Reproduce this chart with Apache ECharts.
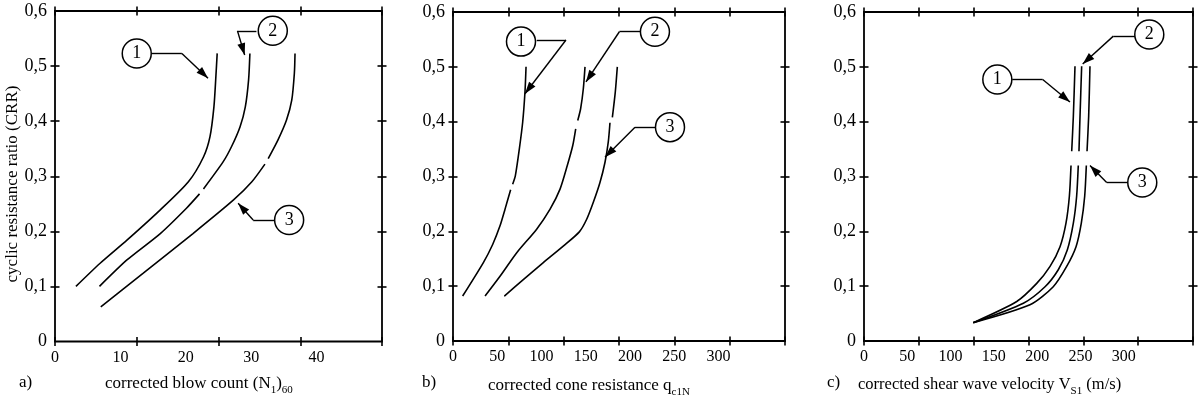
<!DOCTYPE html>
<html>
<head>
<meta charset="utf-8">
<script src="https://cdn.jsdelivr.net/npm/echarts@6/dist/echarts.min.js"></script>
<style>
  html, body { margin: 0; padding: 0; background: #fff; }
  #chart { width: 1200px; height: 397px; }
</style>
</head>
<body>
<div id="chart"></div>
<script>
// gap marker: breaks a curve where the original drawing has a small break
const GAP = ['-', '-'];

// y axis (same for all three panels)
const crrLabels = [0, 0.1, 0.2, 0.3, 0.4, 0.5, 0.6];
const crrTicks = [0.1, 0.2, 0.3, 0.4, 0.5];

// a) corrected blow count
const blowLabels = [0, 10, 20, 30, 40];
const blowTickStep = 12.5;
const blowCurve1 = [[24.8, 0.523], [24.6, 0.481], [24.3, 0.426], [23.7, 0.372], [22.7, 0.335], [20.4, 0.29], [16.1, 0.239], [11.0, 0.184], [6.9, 0.142], [3.2, 0.1]];
const blowCurve2 = [[29.8, 0.523], [29.6, 0.475], [29.1, 0.426], [28.3, 0.39], [27.0, 0.354], [25.7, 0.326], [22.7, 0.277], GAP, [22.1, 0.268], [20.1, 0.242], [16.1, 0.196], [11.0, 0.148], [6.8, 0.1]];
const blowCurve3 = [[36.7, 0.523], [36.6, 0.487], [36.2, 0.438], [35.4, 0.402], [34.1, 0.366], [32.6, 0.332], GAP, [32.1, 0.322], [30.1, 0.29], [27.3, 0.257], [21.1, 0.196], [13.5, 0.124], [7.0, 0.063]];
const blowCallouts = [
  { n: '1', c: [12.5, 0.523], s: [14.8, 0.523], e: [19.4, 0.523], t: [23.4, 0.478] },
  { n: '2', c: [33.3, 0.564], s: [30.8, 0.564], e: [27.9, 0.564], t: [29.0, 0.52] },
  { n: '3', c: [35.8, 0.2205], s: [33.6, 0.2205], e: [30.3, 0.2205], t: [28.0, 0.251] }
];

// b) corrected cone resistance
const coneLabels = [0, 50, 100, 150, 200, 250, 300];
const coneTickStep = 62.5;
const coneCurve1 = [[82.5, 0.5], [81.3, 0.454], [78.7, 0.399], [74.9, 0.35], [70.4, 0.301], [67.4, 0.286], GAP, [65.1, 0.276], [58.7, 0.24], [53.1, 0.21], [44.8, 0.176], [34.3, 0.143], [10.9, 0.082]];
const coneCurve2 = [[149.1, 0.5], [147.2, 0.46], [144.2, 0.424], [140.9, 0.402], GAP, [138.6, 0.387], [135.2, 0.356], [129.1, 0.32], [120.9, 0.277], [109.5, 0.24], [94.5, 0.204], [72.0, 0.161], [53.1, 0.118], [36.2, 0.082]];
const coneCurve3 = [[185.6, 0.5], [183.3, 0.454], [180.0, 0.408], GAP, [177.3, 0.398], [175.4, 0.363], [171.7, 0.326], [166.0, 0.289], [158.5, 0.253], [151.0, 0.222], [142.7, 0.199], [124.5, 0.173], [102.0, 0.143], [79.4, 0.112], [58.0, 0.082]];
const coneCallouts = [
  { n: '1', c: [76.8, 0.546], s: [94.5, 0.549], e: [127.6, 0.549], t: [81.3, 0.451] },
  { n: '2', c: [228.1, 0.564], s: [212.0, 0.564], e: [187.9, 0.564], t: [150.2, 0.4725] },
  { n: '3', c: [245.1, 0.39], s: [229.3, 0.39], e: [205.6, 0.39], t: [171.7, 0.335] }
];

// c) corrected shear wave velocity
const shearLabels = [0, 50, 100, 150, 200, 250, 300];
const shearTickStep = 380 / 6;
const shearCurve1 = [[243.7, 0.501], [241.8, 0.41], [239.9, 0.346], GAP, [239.1, 0.32], [237.2, 0.264], [233.3, 0.215], [226.4, 0.172], [214.9, 0.136], [199.5, 0.105], [176.4, 0.072], [126.2, 0.0335]];
const shearCurve2 = [[251.4, 0.501], [249.5, 0.41], [248.3, 0.346], GAP, [247.5, 0.32], [245.6, 0.264], [241.8, 0.215], [234.8, 0.166], [224.4, 0.13], [209.1, 0.099], [184.1, 0.069], [126.2, 0.0335]];
const shearCurve3 = [[261.0, 0.501], [259.5, 0.41], [257.6, 0.346], GAP, [256.8, 0.32], [254.9, 0.264], [251.0, 0.215], [244.9, 0.172], [234.1, 0.136], [218.6, 0.099], [191.7, 0.066], [126.2, 0.0335]];
const shearCallouts = [
  { n: '1', c: [154.0, 0.477], s: [171.2, 0.477], e: [206.4, 0.477], t: [237.9, 0.436] },
  { n: '2', c: [329.5, 0.559], s: [313.0, 0.556], e: [288.0, 0.556], t: [252.6, 0.505] },
  { n: '3', c: [321.4, 0.289], s: [304.5, 0.289], e: [280.3, 0.289], t: [261.0, 0.32] }
];

const FONT = '"Liberation Serif", "Times New Roman", serif';

var chart = echarts.init(document.getElementById('chart'), null, { renderer: 'canvas' });

var grids = [], xAxes = [], yAxes = [], series = [];

// axis that only draws short ticks crossing the frame line
function tickAxis(i, pos, max, tickOpt) {
  var ax = {
    gridIndex: i, type: 'value', position: pos, offset: -4.5,
    min: 0, max: max,
    axisLine: { show: false, onZero: false },
    axisLabel: { show: false },
    splitLine: { show: false },
    axisTick: { show: true, length: 9, lineStyle: { color: '#000', width: 1.6 } }
  };
  if (tickOpt.step) ax.interval = tickOpt.step;
  if (tickOpt.values) ax.axisTick.customValues = tickOpt.values;
  return ax;
}

function addPanel(i, box, xmax, labels, tickStep, curves, callouts) {
  grids.push({
    left: box[0], top: box[1], width: box[2], height: box[3],
    show: true, borderColor: '#000', borderWidth: 1.8,
    backgroundColor: 'transparent', containLabel: false, outerBoundsMode: 'none'
  });
  xAxes.push({
    gridIndex: i, type: 'value', position: 'bottom', min: 0, max: xmax,
    axisLine: { show: false, onZero: false },
    axisTick: { show: false },
    splitLine: { show: false },
    axisLabel: { customValues: labels, margin: 8, color: '#000', fontFamily: FONT, fontSize: 16 }
  });
  xAxes.push(tickAxis(i, 'bottom', xmax, { step: tickStep }));
  xAxes.push(tickAxis(i, 'top', xmax, { step: tickStep }));

  yAxes.push({
    gridIndex: i, type: 'value', position: 'left', min: 0, max: 0.6,
    axisLine: { show: false, onZero: false },
    axisTick: { show: false },
    splitLine: { show: false },
    axisLabel: {
      customValues: crrLabels, margin: 8, color: '#000', fontFamily: FONT, fontSize: 18,
      formatter: function (v) { return v === 0 ? '0' : v.toFixed(1).replace('.', ','); }
    }
  });
  yAxes.push(tickAxis(i, 'left', 0.6, { values: crrTicks }));
  yAxes.push(tickAxis(i, 'right', 0.6, { values: crrTicks }));

  curves.forEach(function (c, k) {
    var s = {
      type: 'line', xAxisIndex: 3 * i, yAxisIndex: 3 * i,
      data: c, symbol: 'none', smooth: 0.25, connectNulls: false,
      silent: true,
      lineStyle: { color: '#000', width: 1.6 }
    };
    if (k === 0) {
      s.markPoint = {
        silent: true,
        symbol: 'circle', symbolSize: 29,
        itemStyle: { color: '#fff', borderColor: '#000', borderWidth: 1.5 },
        label: {
          show: true, position: 'inside', color: '#000', fontFamily: FONT, fontSize: 18,
          formatter: function (p) { return p.name; }
        },
        data: callouts.map(function (o) { return { name: o.n, coord: o.c }; })
      };
      var lines = [];
      callouts.forEach(function (o) {
        lines.push([{ coord: o.s }, { coord: o.e }]);
        lines.push([{ coord: o.e }, { coord: o.t, symbol: 'triangle', symbolSize: [8, 12], symbolOffset: [0, 6] }]);
      });
      s.markLine = {
        silent: true,
        symbol: ['none', 'none'],
        lineStyle: { color: '#000', width: 1.4, type: 'solid' },
        label: { show: false },
        emphasis: { disabled: true },
        data: lines
      };
    }
    series.push(s);
  });
}

addPanel(0, [55, 11, 327, 330.5], 50, blowLabels, blowTickStep, [blowCurve1, blowCurve2, blowCurve3], blowCallouts);
addPanel(1, [453, 12, 332, 329], 375, coneLabels, coneTickStep, [coneCurve1, coneCurve2, coneCurve3], coneCallouts);
addPanel(2, [864, 12, 329, 329], 380, shearLabels, shearTickStep, [shearCurve1, shearCurve2, shearCurve3], shearCallouts);

var titleStyle = {
  fontFamily: FONT, fontSize: 17, fontWeight: 'normal', color: '#000', lineHeight: 24,
  rich: { s: { fontFamily: FONT, fontSize: 11, color: '#000', verticalAlign: 'bottom' } }
};

var option = {
  animation: false,
  backgroundColor: '#fff',
  title: [
    { text: 'a)', left: 14, top: 366, textStyle: titleStyle },
    { text: 'corrected blow count (N{s|1}){s|60}', left: 100, top: 367, textStyle: titleStyle },
    { text: 'b)', left: 417, top: 366, textStyle: titleStyle },
    { text: 'corrected cone resistance q{s|c1N}', left: 483, top: 369, textStyle: titleStyle },
    { text: 'c)', left: 822, top: 366, textStyle: titleStyle },
    { text: 'corrected shear wave velocity V{s|S1} (m/s)', left: 853, top: 368,
      textStyle: Object.assign({}, titleStyle, { fontSize: 16.5 }) }
  ],
  graphic: [{
    type: 'text', x: 13, y: 184, rotation: Math.PI / 2,
    style: {
      text: 'cyclic resistance ratio (CRR)', fill: '#000',
      font: '17px ' + FONT, align: 'center', verticalAlign: 'middle'
    }
  }],
  grid: grids,
  xAxis: xAxes,
  yAxis: yAxes,
  series: series
};

chart.setOption(option);
</script>
</body>
</html>
